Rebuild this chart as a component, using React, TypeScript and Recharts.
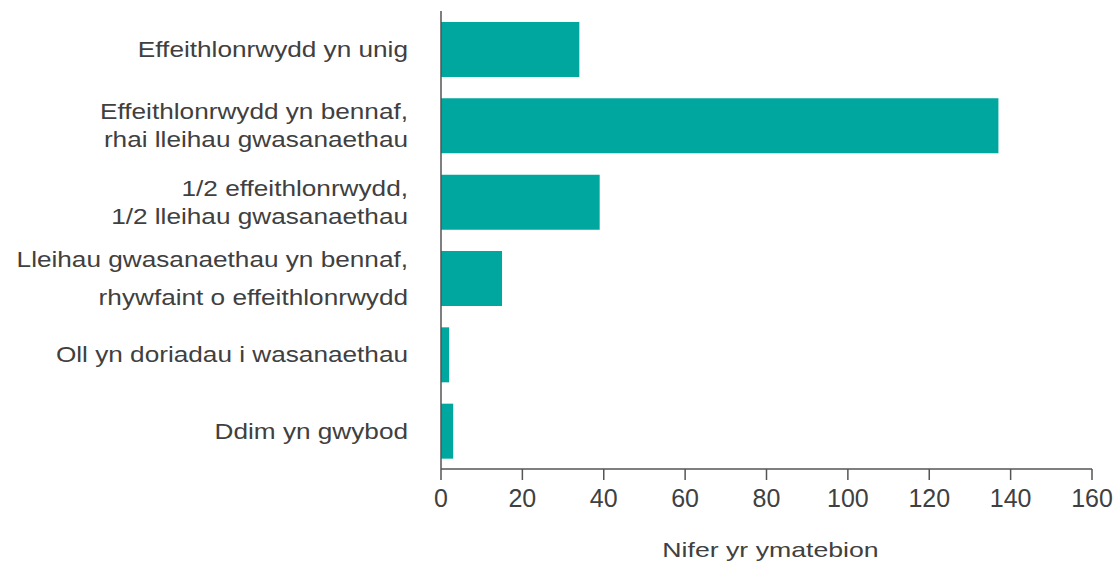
import { BarChart, Bar, XAxis, YAxis, Label } from "recharts";

// atebion: sut y bydd arbedion yn cael eu gwneud
const categories = [
  "Effeithlonrwydd yn unig",
  "Effeithlonrwydd yn bennaf,\nrhai lleihau gwasanaethau",
  "1/2 effeithlonrwydd,\n1/2 lleihau gwasanaethau",
  "Lleihau gwasanaethau yn bennaf,\nrhywfaint o effeithlonrwydd",
  "Oll yn doriadau i wasanaethau",
  "Ddim yn gwybod",
];
const responses = [34, 137, 39, 15, 2, 3];
const xTicks = [0, 20, 40, 60, 80, 100, 120, 140, 160];
const axisTitle = "Nifer yr ymatebion";

const data = categories.map((name, i) => ({ name, value: responses[i] }));

const FONT = "'Liberation Sans', Arial, Helvetica, sans-serif";
const TEXT = "#404040";
const AXIS = "#555555";
const TEAL = "#00a79e";
const STRETCH = 1.19;

// one label in the source has looser line spacing
const lineGap = (label: string) => (label.startsWith("Lleihau") ? 38 : 28);

function CategoryTick(props: any) {
  const { x, y, payload } = props;
  const label: string = payload.value;
  const lines = label.split("\n");
  const gap = lineGap(label);
  return (
    <g>
      {lines.map((line, i) => {
        const base = y + 7.8 + (i - (lines.length - 1) / 2) * gap;
        return (
          <text
            key={i}
            transform={`translate(${x},${base}) scale(${STRETCH},1)`}
            textAnchor="end"
            fontFamily={FONT}
            fontSize={22}
            fill={TEXT}
          >
            {line}
          </text>
        );
      })}
    </g>
  );
}

function ValueTick(props: any) {
  const { x, y, payload } = props;
  return (
    <text x={x} y={y + 25} textAnchor="middle" fontFamily={FONT} fontSize={25} fill={TEXT}>
      {payload.value}
    </text>
  );
}

function AxisTitle(props: any) {
  const { viewBox } = props;
  const cx = viewBox.x + viewBox.width / 2 + 4;
  return (
    <text
      transform={`translate(${cx},557) scale(1.27,1)`}
      textAnchor="middle"
      fontFamily={FONT}
      fontSize={21}
      fill={TEXT}
    >
      {axisTitle}
    </text>
  );
}

export default function App() {
  return (
    <div style={{ position: "absolute", left: 0, top: 0, background: "#fff" }}>
      <BarChart
        width={1116}
        height={565}
        data={data}
        layout="vertical"
        margin={{ top: 11, right: 24, bottom: 0, left: 0 }}
        barSize={55}
      >
        <XAxis
          type="number"
          domain={[0, 160]}
          ticks={xTicks}
          interval={0}
          height={96}
          tickSize={11}
          tickMargin={2}
          stroke={AXIS}
          strokeWidth={1.5}
          tick={<ValueTick />}
        >
          <Label content={<AxisTitle />} />
        </XAxis>
        <YAxis
          type="category"
          dataKey="name"
          width={441}
          tickLine={false}
          tickSize={0}
          tickMargin={33}
          interval={0}
          stroke={AXIS}
          strokeWidth={1.5}
          tick={<CategoryTick />}
        />
        <Bar dataKey="value" fill={TEAL} isAnimationActive={false} />
      </BarChart>
    </div>
  );
}
